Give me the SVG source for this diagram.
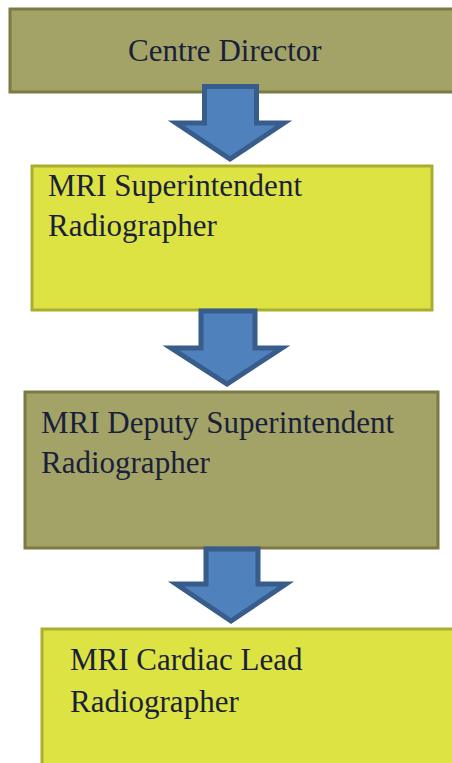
<svg xmlns="http://www.w3.org/2000/svg" width="452" height="763" viewBox="0 0 452 763">
<style>
.olive{fill:#a3a367;stroke:#7a7a45;stroke-width:3}
.lime{fill:#dde343;stroke:#a9ae2e;stroke-width:3}
.arrow{fill:#4f81bd;stroke:#385d8a;stroke-width:5;stroke-linejoin:miter}
text{font-family:"Liberation Serif",serif;font-size:31px;fill:#1a1f3a}
</style>
<rect width="452" height="763" fill="#ffffff"/>
<g id="centre-director">
<rect class="olive" x="10" y="9" width="450" height="83"/>
<text x="128" y="61">Centre Director</text>
</g>
<g id="mri-superintendent">
<rect class="lime" x="32" y="166" width="400" height="144"/>
<text x="48" y="196">MRI Superintendent</text>
<text x="48" y="236">Radiographer</text>
</g>
<g id="mri-deputy">
<rect class="olive" x="25" y="392" width="413" height="156"/>
<text x="41" y="433">MRI Deputy Superintendent</text>
<text x="41" y="473">Radiographer</text>
</g>
<g id="mri-cardiac">
<rect class="lime" x="42" y="629" width="420" height="150"/>
<text x="70" y="670">MRI Cardiac Lead</text>
<text x="70" y="712">Radiographer</text>
</g>
<g id="connectors">
<polygon class="arrow" points="204.5,86.5 256.5,86.5 256.5,123 284,123 230,159 176,123 204.5,123"/>
<polygon class="arrow" points="201,311 255,311 255,348 282,348 227,384 171,348 201,348"/>
<polygon class="arrow" points="206,549 258,549 258,584 286,584 231,621 176,584 206,584"/>
</g>
</svg>
